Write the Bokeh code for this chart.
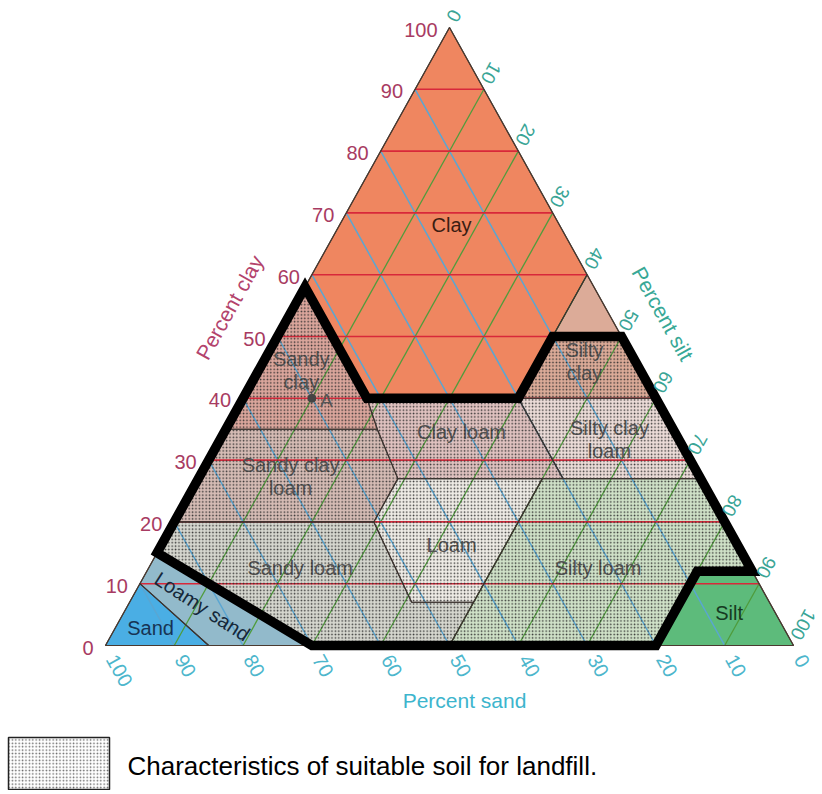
import math
from bokeh.plotting import figure
from bokeh.models import Range1d
from bokeh.core.properties import value
from bokeh.embed import file_html
from bokeh.resources import INLINE

# ---------------- data ----------------
tick_values = [0, 10, 20, 30, 40, 50, 60, 70, 80, 90, 100]
tick_labels = [str(t) for t in tick_values]
grid_values = [10, 20, 30, 40, 50, 60, 70, 80, 90]

# soil texture classes: polygon vertices as (clay %, silt %)
class_names = ["Clay", "Silty clay", "Sandy clay", "Clay loam", "Silty clay loam",
               "Sandy clay loam", "Loam", "Sandy loam", "Silt loam", "Silt",
               "Loamy sand", "Sand"]
clay_pts = {
    "Clay":            [40, 58, 100, 60, 40],
    "Silty clay":      [40, 60, 40],
    "Sandy clay":      [35, 58, 40, 35],
    "Clay loam":       [27, 35, 40, 40, 27],
    "Silty clay loam": [27, 40, 40, 27],
    "Sandy clay loam": [20, 35, 35, 27, 20],
    "Loam":            [7, 20, 27, 27, 7],
    "Sandy loam":      [0, 0, 7, 7, 20, 20, 15],
    "Silt loam":       [0, 0, 12, 12, 27, 27, 7],
    "Silt":            [0, 0, 12, 12],
    "Loamy sand":      [0, 0, 15, 10],
    "Sand":            [0, 0, 10],
}
silt_pts = {
    "Clay":            [18, 0, 0, 40, 40],
    "Silty clay":      [40, 40, 60],
    "Sandy clay":      [0, 0, 18, 22],
    "Clay loam":       [29, 22, 18, 40, 53],
    "Silty clay loam": [53, 40, 60, 73],
    "Sandy clay loam": [0, 0, 22, 29, 29],
    "Loam":            [41, 29, 29, 50, 50],
    "Sandy loam":      [30, 50, 50, 41, 29, 0, 0],
    "Silt loam":       [50, 80, 80, 88, 73, 50, 50],
    "Silt":            [80, 100, 88, 80],
    "Loamy sand":      [15, 30, 0, 0],
    "Sand":            [0, 15, 0],
}
class_colors = {
    "Clay": "#ef8660", "Silty clay": "#dcab98", "Sandy clay": "#dba69c",
    "Clay loam": "#e0c2c0", "Silty clay loam": "#ecdcd8", "Sandy clay loam": "#d6bcb5",
    "Loam": "#efece6", "Sandy loam": "#d6d7cf", "Silt loam": "#d0e2c8",
    "Silt": "#5dbb7b", "Loamy sand": "#92bacb", "Sand": "#4aaee4",
}

# class name labels: text and anchor composition (clay %, silt %)
label_texts = ["Clay", "Sandy\nclay", "Silty\nclay", "Clay loam", "Silty clay\nloam",
               "Sandy clay\nloam", "Loam", "Sandy loam", "Silty loam", "Loamy sand",
               "Sand", "Silt"]
label_clay = [68.0, 44.5, 46.0, 34.5, 33.3, 27.4, 16.2, 12.6, 12.6, 6.3, 2.9, 5.3]
label_silt = [16.3, 6.2, 46.6, 34.5, 56.6, 13.2, 42.2, 22.0, 65.3, 10.9, 5.1, 88.0]

# area suitable for landfill (clay %, silt %)
landfill_clay = [15, 58, 40, 40, 50, 50, 12, 12, 0, 0]
landfill_silt = [0, 0, 18, 40, 40, 50, 88, 80, 80, 30]

# sample point A
point_clay = [40]
point_silt = [10]

# ---------------- layout ----------------
W, H = 822, 790
PX_L, PX_R, PX_T, PX_B = 105, 793, 27, 645
SX = (PX_R - PX_L) / 100.0
SY = (PX_B - PX_T) / 100.0
x0 = -PX_L / SX
x1 = x0 + W / SX
y1 = 100 + PX_T / SY
y0 = y1 - H / SY


def tern(clay, silt):
    xs = [s + c / 2.0 for c, s in zip(clay, silt)]
    ys = [float(c) for c in clay]
    return xs, ys


def dpx(dx, dy):
    """pixel offset (screen, y down) -> data offset"""
    return dx / SX, -dy / SY


def at_px(X, Y):
    return x0 + X / SX, y1 - Y / SY


EDGE_ANG = math.atan2(PX_B - PX_T, (PX_R - PX_L) / 2.0)  # ~60.9 deg

FONT = value("Liberation Sans")

p = figure(width=W, height=H, x_range=Range1d(x0, x1), y_range=Range1d(y0, y1),
           output_backend="svg", toolbar_location=None, min_border=0,
           x_axis_type=None, y_axis_type=None, outline_line_color=None)
p.grid.visible = False
p.background_fill_color = "white"
p.border_fill_color = "white"

# class fills
for name in class_names:
    xs, ys = tern(clay_pts[name], silt_pts[name])
    p.patch(xs, ys, fill_color=class_colors[name], line_color=None)

# grid lines
red_x, red_y, blue_x, blue_y, green_x, green_y = [], [], [], [], [], []
for v in grid_values:
    xs, ys = tern([v, v], [0, 100 - v])
    red_x.append(xs); red_y.append(ys)
    xs, ys = tern([0, 100 - v], [100 - v, 0])   # constant sand = v
    blue_x.append(xs); blue_y.append(ys)
    xs, ys = tern([0, 100 - v], [v, v])         # constant silt = v
    green_x.append(xs); green_y.append(ys)
p.multi_line(blue_x, blue_y, line_color="#5aa6d2", line_width=1.5)
p.multi_line(green_x, green_y, line_color="#4f9c3c", line_width=1.3)
p.multi_line(red_x, red_y, line_color="#d8283a", line_width=1.6)

# class labels (drawn under the stipple)
lx, ly = tern(label_clay, label_silt)
dark = {"Clay": "#3b1d12", "Sand": "#173454", "Loamy sand": "#15283a", "Silt": "#163a22"}
for t, xx, yy in zip(label_texts, lx, ly):
    key = t.replace("\n", " ")
    col = dark.get(key, "#555555")
    ang = math.radians(-33) if key == "Loamy sand" else 0.0
    p.text([xx], [yy], text=[t], text_align="center", text_baseline="middle",
           text_font=FONT, text_font_size="20px", text_color=col, angle=ang,
           text_line_height=1.05)

# stipple overlay for suitable landfill soil
fx, fy = tern(landfill_clay, landfill_silt)
p.patch(fx, fy, fill_alpha=0, line_color=None, hatch_pattern="dot",
        hatch_color="#2a2a2a", hatch_scale=3.4, hatch_weight=1.5, hatch_alpha=0.9)

# thin class boundaries
for name in class_names:
    xs, ys = tern(clay_pts[name], silt_pts[name])
    p.patch(xs, ys, fill_alpha=0, line_color="#3c3430", line_width=1.1)

# triangle outline
tx, ty = tern([0, 100, 0], [0, 0, 100])
p.patch(tx, ty, fill_alpha=0, line_color="#4a3a30", line_width=1.2)

# thick landfill boundary
p.patch(fx, fy, fill_alpha=0, line_color="black", line_width=9.5, line_join="miter")

# point A
ax, ay = tern(point_clay, point_silt)
p.scatter(ax, ay, size=8, color="#444444")
ox, oy = dpx(8, 2)
p.text([ax[0] + ox], [ay[0] + oy], text=["A"], text_align="left", text_baseline="middle",
       text_font=FONT, text_font_size="19px", text_color="#555555")

# clay tick labels (left edge)
cx, cy = tern(tick_values, [0] * len(tick_values))
ox, oy = dpx(-12, 2)
p.text([v + ox for v in cx], [v + oy for v in cy], text=tick_labels, text_align="right",
       text_baseline="middle", text_font=FONT, text_font_size="20px", text_color="#a83b62")

# silt tick labels (right edge): silt value at (clay = 100 - silt)
sx_, sy_ = tern([100 - v for v in tick_values], tick_values)
d = 8
ox, oy = dpx(d * math.cos(EDGE_ANG) - 2, -d * math.sin(EDGE_ANG))
p.text([v + ox for v in sx_], [v + oy for v in sy_], text=tick_labels, text_align="right",
       text_baseline="middle", text_font=FONT, text_font_size="19px", text_color="#3aa596",
       angle=-(math.pi - EDGE_ANG))

# sand tick labels (bottom): sand value v at silt = 100 - v
bx, by = tern([0] * len(tick_values), [100 - v for v in tick_values])
d = 12
ox, oy = dpx(d * math.cos(EDGE_ANG), d * math.sin(EDGE_ANG))
p.text([v + ox for v in bx], [v + oy for v in by], text=tick_labels, text_align="left",
       text_baseline="middle", text_font=FONT, text_font_size="20px", text_color="#4cb6cc",
       angle=-EDGE_ANG)

# axis titles
tx_, ty_ = tern([54.7], [0])
ox, oy = dpx(-64, 0)
p.text([tx_[0] + ox], [ty_[0] + oy], text=["Percent clay"], text_align="center",
       text_baseline="middle", text_font=FONT, text_font_size="21px", text_color="#b3436c",
       angle=EDGE_ANG)
tx_, ty_ = tern([53.7], [46.3])
ox, oy = dpx(54, 0)
p.text([tx_[0] + ox], [ty_[0] + oy], text=["Percent silt"], text_align="center",
       text_baseline="middle", text_font=FONT, text_font_size="21px", text_color="#38a896",
       angle=-EDGE_ANG)
tx_, ty_ = tern([0], [50])
ox, oy = dpx(15, 55)
p.text([tx_[0] + ox], [ty_[0] + oy], text=["Percent sand"], text_align="center",
       text_baseline="middle", text_font=FONT, text_font_size="21px", text_color="#3db5cd")

# legend
bl, bt = at_px(8, 737)
br, bb = at_px(109, 789)
p.quad(left=[bl], right=[br], top=[bt], bottom=[bb], fill_color="white",
       line_color="#222222", line_width=1.5, hatch_pattern="dot", hatch_color="#444444",
       hatch_scale=3.4, hatch_weight=1.5, hatch_alpha=0.8)
tlx, tly = at_px(127, 765)
p.text([tlx], [tly], text=["Characteristics of suitable soil for landfill."], text_align="left",
       text_baseline="middle", text_font=FONT, text_font_size="26px", text_color="black")

open("out.html", "w").write(file_html(p, INLINE))
